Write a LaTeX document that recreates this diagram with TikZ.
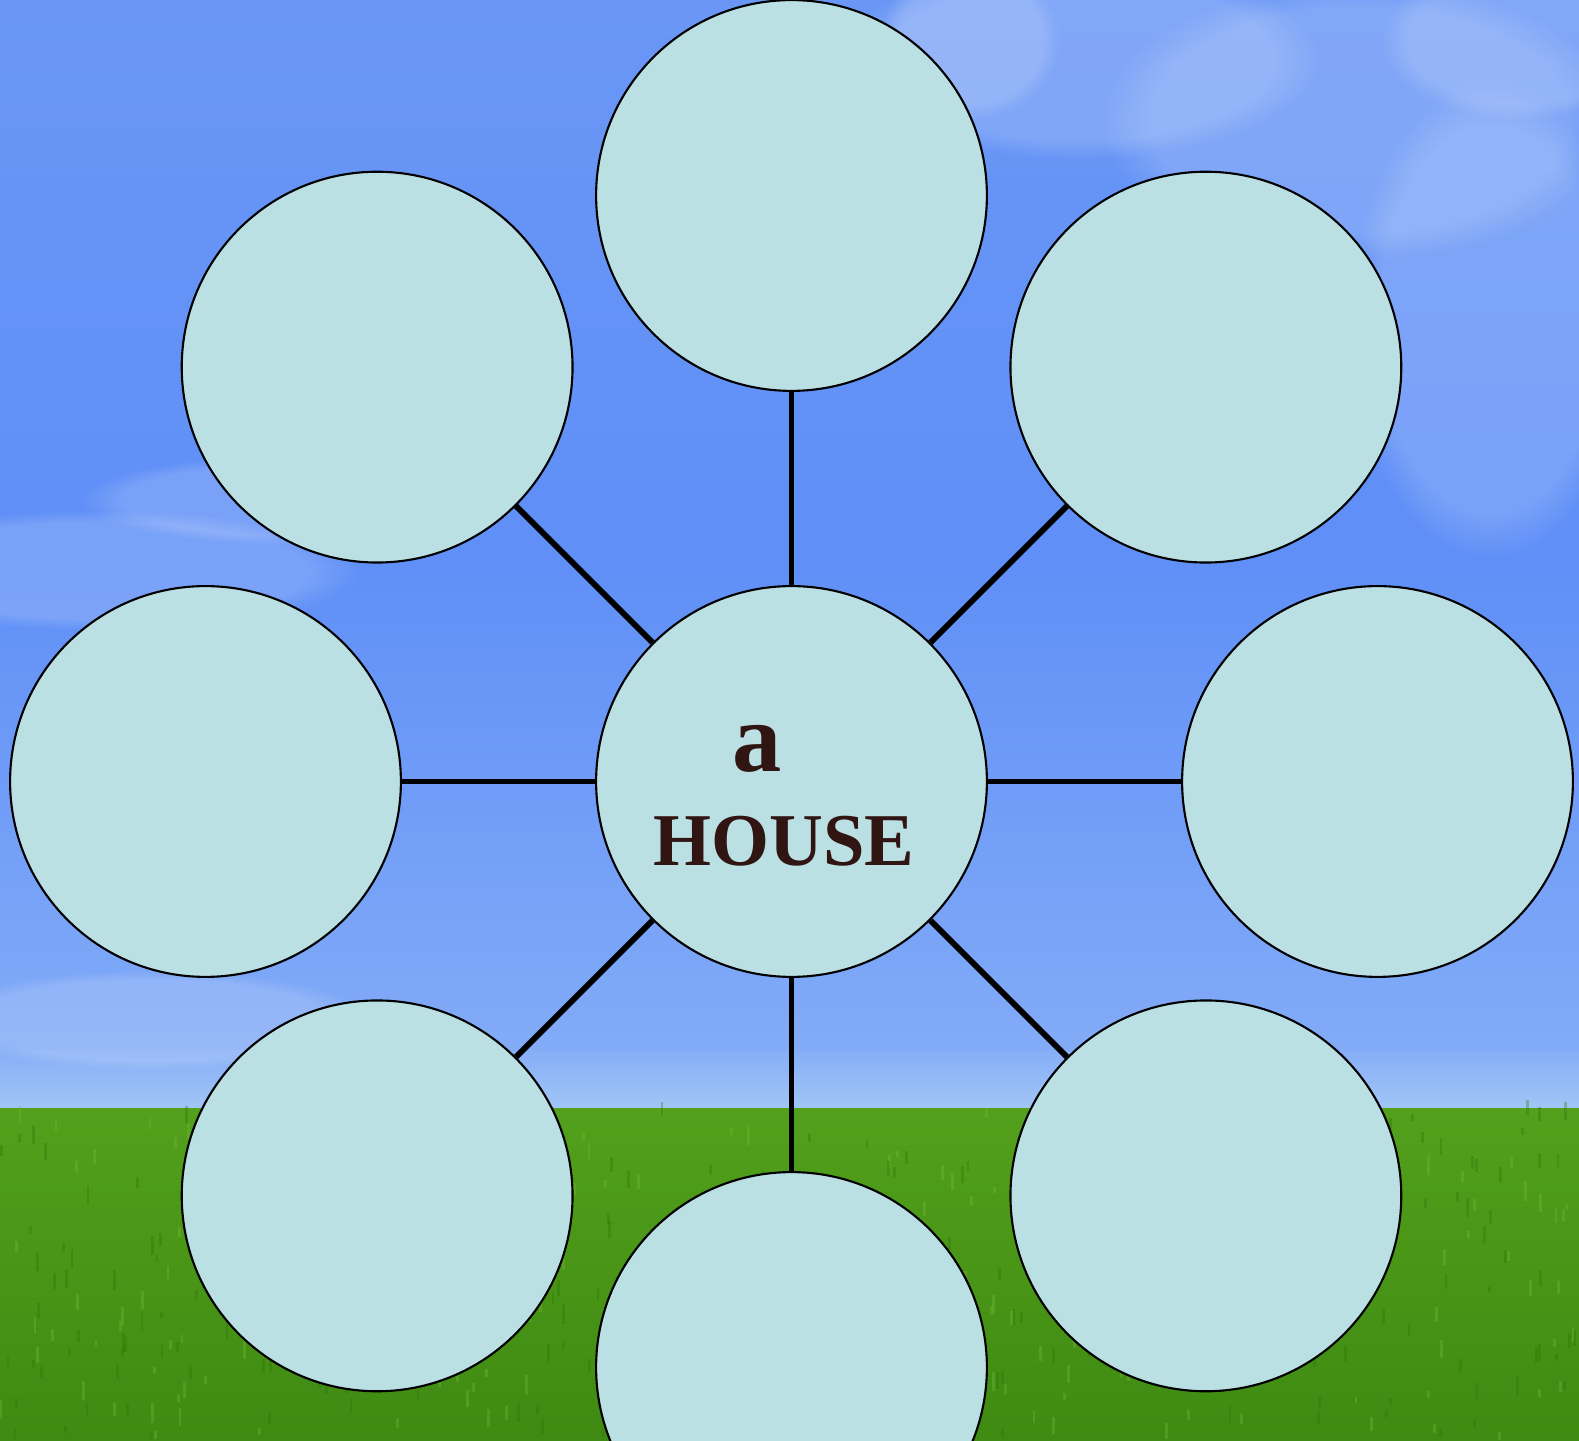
\documentclass[tikz,border=0pt]{standalone}
\usepackage{fontspec}
\setmainfont{Liberation Serif}
\usepackage{tikz}
\usetikzlibrary{positioning,calc,fadings}
\definecolor{skyTop}{HTML}{6A97F6}
\definecolor{skyMid}{HTML}{5F8FF7}
\definecolor{skyLow}{HTML}{86AEF7}
\definecolor{skyHaze}{HTML}{A2C6F6}
\definecolor{grassTop}{HTML}{52A01C}
\definecolor{grassLow}{HTML}{3F8A12}
\definecolor{grassLight}{HTML}{78B83A}
\definecolor{grassDark}{HTML}{2F7408}
\definecolor{webFill}{HTML}{BBE0E3}
\definecolor{webInk}{HTML}{301512}
\tikzset{
    % circles of the word web
    webCircle/.style={
        circle,
        draw=black,
        line width=0.6pt,
        fill=webFill,
        minimum size=3.908cm,
        inner sep=0pt
    },
    hubCircle/.style={webCircle},
    leafCircle/.style={webCircle},
    % spokes
    webSpoke/.style={draw=black, line width=1.7pt},
    % words
    webWord/.style={
        text=webInk,
        font=\bfseries,
        inner sep=0pt,
        anchor=base
    },
    % background pieces
    cloudPuff/.style={fill=white, path fading=circle with fuzzy edge 20 percent, fit fading=true, opacity=0.16},
    grassBlade/.style={line width=0.8pt, opacity=0.35}
}

\begin{document}
\begin{tikzpicture}
\useasboundingbox (0,0) rectangle (15.79,14.40);
\clip (0,0) rectangle (15.79,14.40);

% sky and grass
\shade[top color=skyTop, bottom color=skyLow, middle color=skyMid] (0,3.30) rectangle (15.79,14.40);
\shade[top color=skyLow, bottom color=skyHaze] (0,3.30) rectangle (15.79,3.90);
\foreach \cx/\cy/\rx/\ry in {10.8/13.8/2.4/1.0, 13.6/13.2/2.6/1.4, 14.9/11.2/1.4/2.4, 9.7/14.0/0.9/0.8, 1.0/8.7/2.6/0.6, 3.0/9.4/2.2/0.45, 15.2/14.0/1.4/0.8, 1.5/4.2/2.2/0.5}{
    \fill[cloudPuff] (\cx,\cy) ellipse ({\rx} and {\ry});
}
\shade[top color=grassTop, bottom color=grassLow] (0,0) rectangle (15.79,3.32);
\pgfmathsetseed{11}
\foreach \k in {1,...,500}{
    \pgfmathsetmacro{\gx}{rnd*15.79}
    \pgfmathsetmacro{\gy}{rnd*3.25}
    \pgfmathsetmacro{\gl}{0.06+rnd*0.14}
    \pgfmathparse{rnd>0.5 ? "grassLight" : "grassDark"}
    \edef\gcol{\pgfmathresult}
    \draw[grassBlade, draw=\gcol] (\gx,\gy) -- ++(0,\gl);
}

% word web
\coordinate (hubPoint) at (7.915,6.585);
\node[hubCircle] (hub) at (hubPoint) {};
\foreach \ang [count=\i] in {90,45,0,-45,-90,-135,180,135}{
    \path (hubPoint) ++(\ang:5.86) node[leafCircle] (leaf\i) {};
}
\foreach \i in {1,...,8}{
    \draw[webSpoke] (hub) -- (leaf\i);
}

\node[webWord, font=\bfseries\fontsize{28}{30}\selectfont] (wordA) at (7.57,6.68) {a};
\node[webWord, font=\bfseries\fontsize{21.2}{24}\selectfont] (wordHouse) at (7.84,5.74) {HOUSE};
\end{tikzpicture}
\end{document}
